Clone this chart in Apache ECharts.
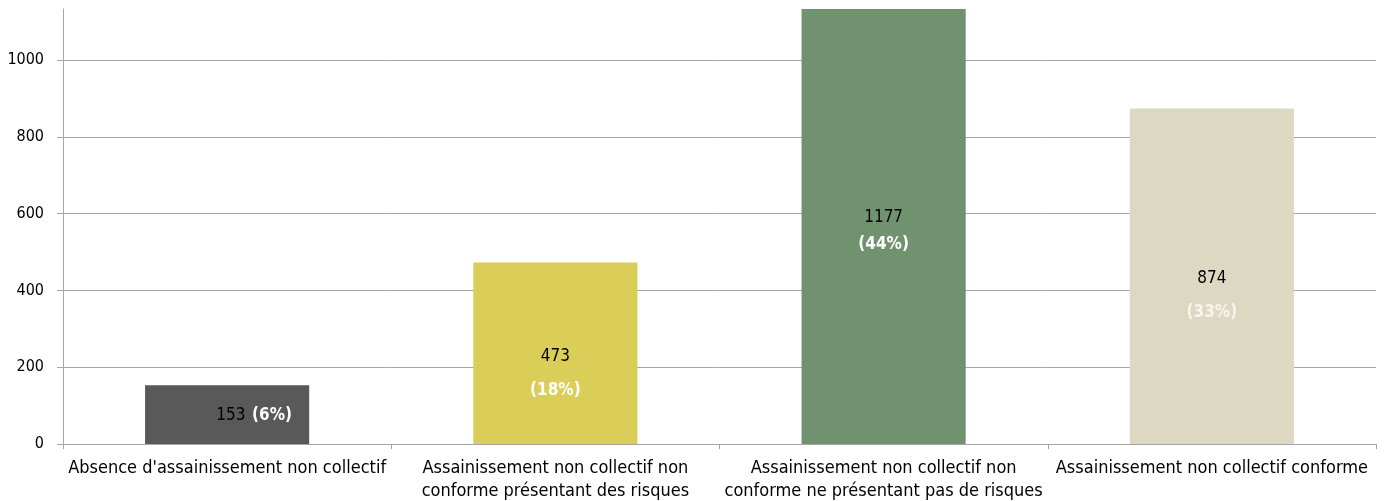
<!DOCTYPE html>
<html>
<head>
<meta charset="utf-8">
<script src="https://cdn.jsdelivr.net/npm/echarts@6/dist/echarts.min.js"></script>
<style>html,body{margin:0;padding:0;background:#fff}#c{width:1384px;height:501px}</style>
</head>
<body>
<div id="c"></div>
<script>
const categories = [
  "Absence d'assainissement non collectif",
  "Assainissement non collectif non\nconforme présentant des risques",
  "Assainissement non collectif non\nconforme ne présentant pas de risques",
  "Assainissement non collectif conforme"
];
const values = [153, 473, 1177, 874];
const percents = ["(6%)", "(18%)", "(44%)", "(33%)"];
const colors = ["#595959", "#DBCE58", "#71926F", "#DDD8C2"];
const yTicks = [0, 200, 400, 600, 800, 1000];

const FONT = "'Liberation Sans Narrow','DejaVu Sans Condensed',sans-serif";

const labelCfg = [
  { formatter: p => "{v|" + p.value + "}  {p|" + percents[p.dataIndex] + "}", offset: [27, 1] },
  { formatter: p => "{v|" + p.value + "}\n{p|" + percents[p.dataIndex] + "}", offset: [0, 20], lineHeight: 34 },
  { formatter: p => "{v|" + p.value + "}\n{p|" + percents[p.dataIndex] + "}", offset: [0, 5], lineHeight: 27 },
  { formatter: p => "{v|" + p.value + "}\n{q|" + percents[p.dataIndex] + "}", offset: [0, 19], lineHeight: 34 }
];

const data = values.map((v, i) => ({
  value: v,
  itemStyle: { color: colors[i] },
  label: {
    show: true,
    position: 'inside',
    formatter: labelCfg[i].formatter,
    offset: labelCfg[i].offset,
    lineHeight: labelCfg[i].lineHeight || 20,
    rich: {
      v: { color: '#000', fontSize: 17, fontFamily: FONT, lineHeight: labelCfg[i].lineHeight || 20 },
      p: { color: '#fff', fontSize: 17, fontWeight: 'bold', fontFamily: FONT, lineHeight: labelCfg[i].lineHeight || 20 },
      q: { color: '#f7f5ee', fontSize: 17, fontWeight: 'bold', fontFamily: FONT, lineHeight: labelCfg[i].lineHeight || 20 }
    }
  }
}));

const chart = echarts.init(document.getElementById('c'), null, { renderer: 'canvas' });
chart.setOption({
  animation: false,
  backgroundColor: '#fff',
  grid: { left: 63, right: 8, top: 9, bottom: 57, containLabel: false, outerBoundsMode: 'none' },
  xAxis: {
    type: 'category',
    data: categories,
    axisLine: { lineStyle: { color: '#a6a6a6', width: 1 } },
    axisTick: { show: true, alignWithLabel: false, length: 5, lineStyle: { color: '#a6a6a6' } },
    axisLabel: { color: '#000', fontSize: 18, fontFamily: FONT, interval: 0, lineHeight: 23, margin: 13 }
  },
  yAxis: {
    type: 'value',
    min: 0,
    max: 1133,
    interval: 200,
    axisLine: { show: true, lineStyle: { color: '#a6a6a6', width: 1 } },
    axisTick: { show: true, length: 6, lineStyle: { color: '#a6a6a6' } },
    axisLabel: {
      color: '#000', fontSize: 16, fontFamily: FONT, margin: 19, showMaxLabel: false,
      formatter: v => yTicks.indexOf(v) >= 0 ? String(v) : ''
    },
    splitLine: { show: true, showMaxLine: false, lineStyle: { color: '#a6a6a6', width: 1 } }
  },
  series: [{
    type: 'bar',
    data: data,
    barWidth: '50%',
    clip: true
  }]
});
</script>
</body>
</html>
